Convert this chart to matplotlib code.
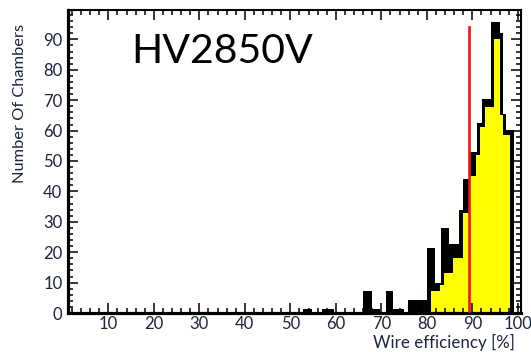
# -*- coding: utf-8 -*-

"""Wire efficiency per chamber at HV 2850 V"""

import matplotlib
matplotlib.use("Agg")
import matplotlib.pyplot as plt
from matplotlib.ticker import MultipleLocator

# Black outline histogram (bin edges and counts)
black_edges = [52.7, 54.7, 56.9, 59.6, 65.9, 67.9, 69.7, 71.0, 72.6, 75.0,
               75.8, 79.98, 81.8, 83.01, 84.95, 87.14, 88.02, 89.5, 90.97,
               92.07, 94.04, 96.02, 96.75, 97.47, 99.16]
black_counts = [1.3, 0, 1.3, 0, 7.4, 1.3, 0, 7.4, 1.3, 0,
                4.4, 21.5, 9.8, 27.9, 22.7, 33.8, 44, 53, 62.4,
                70.5, 95.6, 92, 65.4, 60.2]

# Yellow filled histogram
yellow_edges = [80.98, 82.9, 83.85, 85.82, 88.02, 89.5, 90.75, 91.7, 92.8,
                94.77, 96.02, 96.75, 98.18]
yellow_counts = [7.2, 9.2, 13, 18, 32.8, 45, 52, 61.3, 67.9, 90, 65, 58.5]

# Red marker line
cut_x = 89.2
cut_y = [0.8, 94.2]

x_major = [10, 20, 30, 40, 50, 60, 70, 80, 90, 100]
y_major = [0, 10, 20, 30, 40, 50, 60, 70, 80, 90]

FONT = ["Lato", "DejaVu Sans"]
LABEL_COLOR = "#1c2540"


def make_plot(file: str):
    """Draw the histogram and save it as png

    :param file: File name for the plot
    """
    plt.rcParams["font.family"] = FONT
    fig = plt.figure(figsize=(5.31, 3.52), dpi=100)
    ax = fig.add_axes([68 / 531, 39 / 352, 452.5 / 531, 303 / 352])

    ax.stairs(black_counts, black_edges, fill=True, color="black", lw=0)
    ax.stairs(yellow_counts, yellow_edges, fill=True, color="#ffff00", lw=0)
    ax.plot([cut_x, cut_x], cut_y, color="#ee1515", lw=1.9, zorder=3)

    ax.set_xlim(1.14, 100.59)
    ax.set_ylim(0, 99.67)
    ax.set_xticks(x_major)
    ax.set_yticks(y_major)
    ax.xaxis.set_minor_locator(MultipleLocator(2))
    ax.yaxis.set_minor_locator(MultipleLocator(2))
    ax.tick_params(which="both", direction="in", top=True, right=True,
                   width=1.1, color="black", labelcolor=LABEL_COLOR,
                   labelsize=12)
    ax.tick_params(which="major", length=7.2)
    ax.tick_params(which="minor", length=3.6)
    ax.tick_params(axis="x", pad=2)
    ax.tick_params(axis="y", pad=4)

    for side in ["left", "bottom"]:
        ax.spines[side].set_linewidth(2.3)
    for side in ["top", "right"]:
        ax.spines[side].set_linewidth(1.5)

    fig.text(20 / 531, 1 - 103.5 / 352, "Number Of Chambers", rotation=90,
             ha="center", va="center", fontsize=11.8, color=LABEL_COLOR)
    fig.text(515 / 531, 1 - 342 / 352, "Wire efficiency [%]",
             ha="right", va="center", fontsize=12.2, color=LABEL_COLOR)
    fig.text(131.7 / 531, 1 - 63.3 / 352, "HV2850V",
             ha="left", va="baseline", fontsize=29.5, color="black")

    fig.savefig(file, dpi=100)
    plt.close(fig)


make_plot("out.png")
